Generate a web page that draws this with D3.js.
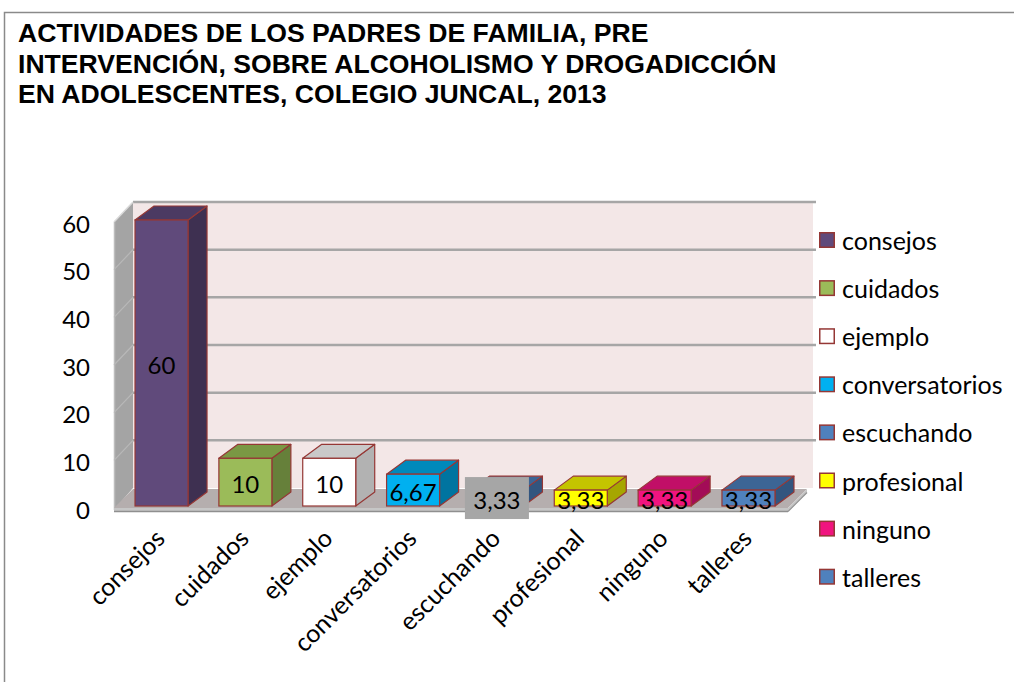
<!DOCTYPE html>
<html>
<head>
<meta charset="utf-8">
<script src="https://cdn.jsdelivr.net/npm/d3@7"></script>
<style>
  html, body { margin: 0; padding: 0; background: #ffffff; }
  svg { display: block; }
</style>
</head>
<body>
<svg id="chart" width="1014" height="682"></svg>
<script>
// ---- data ----
const titleLines = [
  "ACTIVIDADES DE LOS PADRES DE FAMILIA, PRE",
  "INTERVENCIÓN, SOBRE ALCOHOLISMO Y DROGADICCIÓN",
  "EN ADOLESCENTES, COLEGIO JUNCAL, 2013"
];
const categories = ["consejos", "cuidados", "ejemplo", "conversatorios", "escuchando", "profesional", "ninguno", "talleres"];
const values = [60, 10, 10, 6.67, 3.33, 3.33, 3.33, 3.33];
const valueLabels = ["60", "10", "10", "6,67", "3,33", "3,33", "3,33", "3,33"];
const yTicks = [0, 10, 20, 30, 40, 50, 60];
const frontColors = ["#604a7b", "#9bbb59", "#ffffff", "#00b0f0", "#4f81bd", "#ffff00", "#f0147f", "#4f81bd"];
const topColors   = ["#4b3a62", "#7a9844", "#c9c9c9", "#0089bb", "#3c6595", "#c4c400", "#c10f67", "#3c6595"];
const sideColors  = ["#3e3051", "#66803a", "#b2b2b2", "#0074a0", "#32557f", "#a6a600", "#a30c57", "#32557f"];

// ---- layout ----
const svg = d3.select("#chart");
const FONT = "Lato, 'Open Sans', sans-serif";
const FS = 25;
const outline = "#953735";
const DX = 19, DY = -20;          // wall depth offset
const BDX = 19, BDY = -14;        // bar depth offset

const yBar = d3.scaleLinear().domain([0, 60]).range([506, 220]);
const yBack = d3.scaleLinear().domain([0, 60]).range([488, 202]);
const yFront = d3.scaleLinear().domain([0, 60]).range([508, 222]);
const x = d3.scaleBand().domain(categories).range([119.6, 790.4]).paddingInner(0.368).paddingOuter(0.184);

const frontL = 114, frontR = 788;

// frame
svg.append("rect").attr("x", 4.5).attr("y", 12.5).attr("width", 1020).attr("height", 700)
  .attr("fill", "none").attr("stroke", "#8a8a8a").attr("stroke-width", 1.5);

// title
svg.append("g").selectAll("text").data(titleLines).join("text")
  .attr("x", 18).attr("y", (d, i) => 42 + i * 30.5)
  .attr("font-family", "'Liberation Sans', Arial, sans-serif")
  .attr("font-weight", "bold").attr("font-size", 26.6)
  .attr("fill", "#000")
  .text(d => d);

// back wall
const backL = frontL + DX, backR = frontR + DX + 6;
svg.append("rect").attr("x", backL).attr("y", yBack(60)).attr("width", backR - backL)
  .attr("height", yBack(0) - yBack(60)).attr("fill", "#f3e7e7");

// gridlines on back wall
svg.append("g").selectAll("line").data(yTicks.filter(t => t > 0)).join("line")
  .attr("x1", backL).attr("x2", backR + 3)
  .attr("y1", d => yBack(d)).attr("y2", d => yBack(d))
  .attr("stroke", "#a6a6a6").attr("stroke-width", 2.5);

// left wall
svg.append("path")
  .attr("d", `M${frontL},${yFront(60)} L${backL},${yBack(60)} L${backL},${yBack(0)} L${frontL},${yFront(0) + 2} Z`)
  .attr("fill", "#a4a4a4");
svg.append("line").attr("x1", frontL).attr("x2", backL).attr("y1", yFront(60)).attr("y2", yBack(60))
  .attr("stroke", "#d9d9d9").attr("stroke-width", 1.5);
svg.append("line").attr("x1", frontL + 0.5).attr("x2", frontL + 0.5).attr("y1", yFront(60)).attr("y2", yFront(0) + 2)
  .attr("stroke", "#bdbdbd").attr("stroke-width", 1.5);
svg.append("g").selectAll("line").data(yTicks.filter(t => t > 0 && t < 60)).join("line")
  .attr("x1", frontL).attr("x2", backL)
  .attr("y1", d => yFront(d)).attr("y2", d => yBack(d))
  .attr("stroke", "#b8b8b8").attr("stroke-width", 1.2);

// floor
svg.append("path")
  .attr("d", `M${frontL},${yFront(0)} L${frontR},${yFront(0)} L${frontR + DX},${yBack(0) + 1} L${backL},${yBack(0) + 1} Z`)
  .attr("fill", "#b5aeae");
svg.append("path")
  .attr("d", `M${frontL},${yFront(0)} L${frontR},${yFront(0)} L${frontR + DX},${yBack(0) + 1} L${frontR + DX},${yBack(0) + 4} L${frontR},${yFront(0) + 3} L${frontL},${yFront(0) + 3} Z`)
  .attr("fill", "#c6c6c6");
svg.append("line").attr("x1", frontL).attr("x2", frontR).attr("y1", yFront(0) + 3.5).attr("y2", yFront(0) + 3.5)
  .attr("stroke", "#8f8f8f").attr("stroke-width", 1.5);
svg.append("line").attr("x1", frontR).attr("x2", frontR + DX).attr("y1", yFront(0) + 3.5).attr("y2", yBack(0) + 4.5)
  .attr("stroke", "#8f8f8f").attr("stroke-width", 1.2);

// bars
const bars = svg.append("g").selectAll("g").data(categories).join("g");
bars.each(function (c, i) {
  const g = d3.select(this);
  const x0 = x(c), w = x.bandwidth();
  const yt = yBar(values[i]), yb = yBar(0);
  // side
  g.append("path")
    .attr("d", `M${x0 + w},${yt} L${x0 + w + BDX},${yt + BDY} L${x0 + w + BDX},${yb + BDY} L${x0 + w},${yb} Z`)
    .attr("fill", sideColors[i]).attr("stroke", outline).attr("stroke-width", 1.2).attr("stroke-linejoin", "round");
  // top
  g.append("path")
    .attr("d", `M${x0},${yt} L${x0 + BDX},${yt + BDY} L${x0 + w + BDX},${yt + BDY} L${x0 + w},${yt} Z`)
    .attr("fill", topColors[i]).attr("stroke", outline).attr("stroke-width", 1.2).attr("stroke-linejoin", "round");
  // front
  g.append("rect").attr("x", x0).attr("y", yt).attr("width", w).attr("height", yb - yt)
    .attr("fill", frontColors[i]).attr("stroke", outline).attr("stroke-width", 1.2);
});

// data labels
const labels = svg.append("g");
categories.forEach((c, i) => {
  const cx = x(c) + x.bandwidth() / 2;
  const cy = (yBar(values[i]) + yBar(0)) / 2;
  if (c === "escuchando") {
    labels.append("rect").attr("x", cx - 32).attr("y", cy - 21).attr("width", 64).attr("height", 42)
      .attr("fill", "#a6a6a6");
  }
  labels.append("text").attr("x", cx).attr("y", cy + 1)
    .attr("text-anchor", "middle").attr("dominant-baseline", "central")
    .attr("font-family", FONT).attr("font-size", 24).attr("fill", "#000")
    .text(valueLabels[i]);
});

// y axis labels
svg.append("g").selectAll("text").data(yTicks).join("text")
  .attr("x", 90).attr("y", d => yFront(d) + 1)
  .attr("text-anchor", "end").attr("dominant-baseline", "central")
  .attr("font-family", FONT).attr("font-size", 24).attr("fill", "#000")
  .text(d => d);

// x axis labels
svg.append("g").selectAll("text").data(categories).join("text")
  .attr("transform", c => `translate(${x(c) + x.bandwidth() / 2 + 5},${540}) rotate(-45)`)
  .attr("text-anchor", "end")
  .attr("font-family", FONT).attr("font-size", FS).attr("fill", "#000")
  .text(c => c);

// legend
const legend = svg.append("g").selectAll("g").data(categories).join("g")
  .attr("transform", (c, i) => `translate(819,${240 + i * 48.1})`);
legend.append("rect").attr("x", 0.75).attr("y", -7.25).attr("width", 14.5).attr("height", 14.5)
  .attr("fill", (c, i) => frontColors[i]).attr("stroke", outline).attr("stroke-width", 1.5);
legend.append("text").attr("x", 23).attr("y", 0)
  .attr("dominant-baseline", "central")
  .attr("font-family", FONT).attr("font-size", FS).attr("fill", "#000")
  .text(c => c);
</script>
</body>
</html>
